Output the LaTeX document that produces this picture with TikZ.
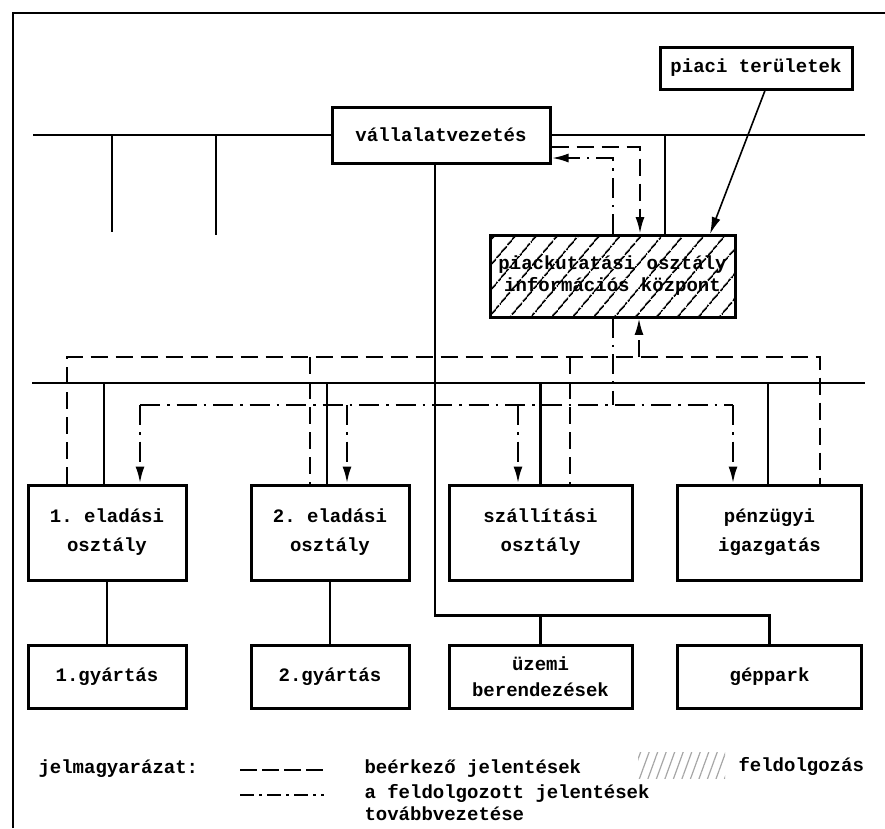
\documentclass[tikz,border=0pt]{standalone}
\usepackage{fontspec}
\setmonofont{Liberation Mono}
\usetikzlibrary{arrows.meta,patterns.meta}

\tikzset{
  unit/.style={draw, line width=3pt, inner sep=0pt, align=center,
    font=\ttfamily\bfseries\fontsize{19}{24}\selectfont},
  midbox/.style={unit, minimum height=95pt, font=\ttfamily\bfseries\fontsize{19}{29}\selectfont},
  lowbox/.style={unit, minimum height=63pt, font=\ttfamily\bfseries\fontsize{19}{26}\selectfont},
  legtext/.style={anchor=west, align=left, font=\ttfamily\bfseries\fontsize{19}{22}\selectfont},
  bus/.style={line width=2.7pt},
  incoming/.style={line width=2.5pt, dash pattern=on 17pt off 8pt},
  outgoing/.style={line width=2.5pt, dash pattern=on 20pt off 7pt on 2.5pt off 7pt},
  arr/.style={-{Latex[length=17pt,width=9pt]}},
}

\begin{document}
\begin{tikzpicture}[x=1pt, y=-1pt, line cap=butt]
    \fill[white] (0,0) rectangle (885,828);
    \useasboundingbox (0,0) rectangle (885,828);
    \draw[line width=2.7pt] (13,828) -- (13,13) -- (885,13);

    % boxes
    \node[unit, minimum width=218pt, minimum height=56pt] (vez) at (441,135) {vállalatvezetés};
    \node[unit, minimum width=192pt, minimum height=42pt] (piaci) at (756,68) {piaci területek};
    \node[unit, minimum width=245pt, minimum height=82pt,
          pattern={Lines[angle=50,distance=17pt,line width=1.9pt]},
          font=\ttfamily\bfseries\fontsize{19}{22}\selectfont] (kut) at (612.5,276)
          {piackutatási osztály\\információs központ};

    \node[midbox, minimum width=158pt] (el1) at (107,532.5) {1. eladási\\osztály};
    \node[midbox, minimum width=158pt] (el2) at (330,532.5) {2. eladási\\osztály};
    \node[midbox, minimum width=183pt] (szall) at (540.5,532.5) {szállítási\\osztály};
    \node[midbox, minimum width=184pt] (penz) at (769.5,532.5) {pénzügyi\\igazgatás};

    \node[lowbox, minimum width=158pt] (gy1) at (107,676.5) {1.gyártás};
    \node[lowbox, minimum width=158pt] (gy2) at (330,676.5) {2.gyártás};
    \node[lowbox, minimum width=183pt] (uzemi) at (540.5,676.5) {üzemi\\berendezések};
    \node[lowbox, minimum width=184pt] (gep) at (769.5,676.5) {géppark};

    % levels
    \coordinate (topL) at (33,135);
    \coordinate (topR) at (865,135);
    \coordinate (lowL) at (32,383);
    \coordinate (lowR) at (865,383);
    \coordinate (dashY) at (0,357);
    \coordinate (dotY) at (0,405);
    \coordinate (kutbus) at (665,135);

    % solid lines
    \draw[bus] (topL) -- (vez.west);
    \draw[bus] (vez.east) -- (topR);
    \draw[bus] (112,135) -- (112,232);
    \draw[bus] (216,135) -- (216,235);
    \draw[bus] (kutbus) -- (kutbus |- kut.north);
    \draw[bus] (lowL) -- (lowR);
    \foreach \n/\s in {el1/-3, el2/-3, szall/0, penz/-1.5}
        \draw[bus] ([xshift=\s pt]\n.north) -- ++(0,-102);
    \draw[bus] ([xshift=-6pt]vez.south) -- ++(0,451) coordinate (knee) -| (gep.north);
    \draw[bus] (knee -| uzemi.north) -- (uzemi.north);
    \draw[bus] (el1.south) -- (gy1.north);
    \draw[bus] (el2.south) -- (gy2.north);

    % reports up and down
    \draw[line width=1.6pt, arr] ([xshift=9pt]piaci.south) -- ([xshift=97.5pt]kut.north);
    \draw[incoming, arr] ([yshift=-12pt]vez.east) -| ([xshift=27.5pt]kut.north);
    \draw[outgoing, arr] ([xshift=0.5pt]kut.north) |- ([yshift=-23pt]vez.east);

    % incoming reports
    \coordinate (in1) at ([xshift=-40pt]el1.north);
    \coordinate (in2) at ([xshift=-20pt]el2.north);
    \coordinate (in3) at ([xshift=29.5pt]szall.north);
    \coordinate (in4) at ([xshift=50.5pt]penz.north);
    \coordinate (kin) at ([xshift=26.5pt]kut.south);
    \draw[incoming] (in1) |- (in4 |- dashY) -- (in4);
    \draw[incoming] (in2 |- dashY) -- (in2);
    \draw[incoming] (in3 |- dashY) -- (in3);
    \draw[incoming, arr] (kin |- dashY) -- (kin);

    % processed reports
    \coordinate (out1) at ([xshift=33pt]el1.north);
    \coordinate (out2) at ([xshift=17pt]el2.north);
    \coordinate (out3) at ([xshift=-22.5pt]szall.north);
    \coordinate (out4) at ([xshift=-36.5pt]penz.north);
    \coordinate (kout) at ([xshift=0.5pt]kut.south);
    \draw[outgoing] (kout) -- (kout |- dotY);
    \draw[outgoing] (out1 |- dotY) -- (out4 |- dotY);
    \foreach \o in {out1, out2, out3, out4}
        \draw[outgoing, arr] (\o |- dotY) -- (\o);

    % legend
    \node[legtext] (leg) at (35,769) {jelmagyarázat:};
    \coordinate (inA) at (240,770);
    \coordinate (inB) at (324,770);
    \draw[incoming, dash pattern=on 17pt off 5pt] (inA) -- (inB);
    \node[legtext] (legIn) at (361,769) {beérkező jelentések};
    \fill[pattern={Lines[angle=70,distance=8pt,line width=1.2pt]}, pattern color=black!35]
        (638,752) rectangle (725,778);
    \node[legtext] (legHatch) at (735,766) {feldolgozás};
    \coordinate (outA) at (240,795);
    \coordinate (outB) at (324,795);
    \draw[outgoing, dash pattern=on 14pt off 5pt on 3pt off 5pt] (outA) -- (outB);
    \node[legtext] (legOut) at (361,802.5) {a feldolgozott jelentések\\továbbvezetése};
\end{tikzpicture}
\end{document}
